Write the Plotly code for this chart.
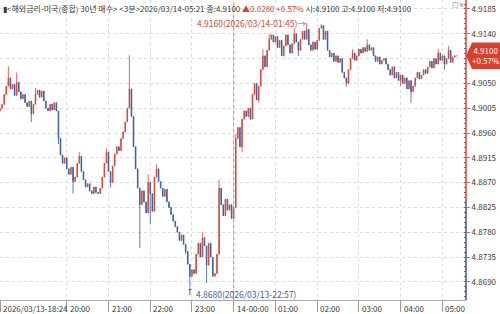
import plotly.graph_objects as go
from datetime import datetime, timedelta

# ---------------- data ----------------
start_time = "2026-03-13 18:24"
bar_minutes = 3
first_open = 4.9000
closes = [
    4.9005, 4.9012, 4.9030, 4.9045, 4.9060, 4.9040, 4.9048, 4.9028, 4.9052, 4.9035,
    4.9022, 4.9030, 4.9015, 4.9008, 4.9018, 4.8995, 4.9012, 4.9030, 4.9038, 4.9025,
    4.9036, 4.9018, 4.9005, 4.9000, 4.9012, 4.9002, 4.9015, 4.9000, 4.8950, 4.8920,
    4.8905, 4.8915, 4.8895, 4.8885, 4.8898, 4.8872, 4.8880, 4.8905, 4.8918, 4.8890,
    4.8875, 4.8862, 4.8868, 4.8855, 4.8850, 4.8862, 4.8852, 4.8850, 4.8860, 4.8880,
    4.8905, 4.8925, 4.8890, 4.8870, 4.8900, 4.8922, 4.8935, 4.8928, 4.8950, 4.8962,
    4.8980, 4.9005, 4.9040, 4.8990, 4.8935, 4.8895, 4.8860, 4.8830, 4.8855, 4.8835,
    4.8815, 4.8870, 4.8850, 4.8818, 4.8880, 4.8895, 4.8872, 4.8860, 4.8845, 4.8858,
    4.8835, 4.8825, 4.8812, 4.8800, 4.8790, 4.8780, 4.8765, 4.8775, 4.8758, 4.8745,
    4.8722, 4.8700, 4.8712, 4.8705, 4.8740, 4.8760, 4.8735, 4.8770, 4.8755, 4.8720,
    4.8760, 4.8735, 4.8700, 4.8705, 4.8740, 4.8860, 4.8830, 4.8810, 4.8840, 4.8820,
    4.8830, 4.8805, 4.8825, 4.8950, 4.8970, 4.8935, 4.8985, 4.9000, 4.8990, 4.9005,
    4.8985, 4.9030, 4.9050, 4.9020, 4.9045, 4.9075, 4.9100, 4.9080, 4.9110, 4.9130,
    4.9138, 4.9125, 4.9135, 4.9115, 4.9128, 4.9100, 4.9118, 4.9138, 4.9120, 4.9105,
    4.9122, 4.9140, 4.9125, 4.9110, 4.9130, 4.9145, 4.9130, 4.9148, 4.9120, 4.9110,
    4.9125, 4.9112, 4.9128, 4.9150, 4.9155, 4.9130, 4.9145, 4.9110, 4.9098, 4.9105,
    4.9090, 4.9100, 4.9088, 4.9095, 4.9070, 4.9060, 4.9050, 4.9075, 4.9095, 4.9105,
    4.9092, 4.9100, 4.9112, 4.9105, 4.9115, 4.9108, 4.9120, 4.9110, 4.9115, 4.9100,
    4.9090, 4.9098, 4.9085, 4.9092, 4.9095, 4.9085, 4.9075, 4.9065, 4.9080, 4.9060,
    4.9070, 4.9055, 4.9065, 4.9050, 4.9060, 4.9040, 4.9055, 4.9035, 4.9045, 4.9060,
    4.9070, 4.9058, 4.9065, 4.9075, 4.9068, 4.9080, 4.9090, 4.9078, 4.9095, 4.9085,
    4.9105, 4.9092, 4.9100, 4.9085, 4.9095, 4.9110, 4.9088, 4.9098, 4.9100, 4.9100,
]
# notable wicks (bar index -> price)
wick_highs = {4: 4.9081, 8: 4.9070, 17: 4.9042, 38: 4.8925, 51: 4.8932, 62: 4.9101,
              71: 4.8885, 75: 4.8903, 97: 4.8780, 105: 4.8875, 113: 4.8958, 126: 4.9112,
              129: 4.9140, 141: 4.9150, 147: 4.9160, 154: 4.9158, 169: 4.9112, 176: 4.9130,
              210: 4.9112, 215: 4.9118}
wick_lows = {15: 4.8980, 28: 4.8940, 35: 4.8850, 53: 4.8861, 67: 4.8751, 72: 4.8795,
             89: 4.8740, 91: 4.8680, 99: 4.8688, 116: 4.8925, 124: 4.9015, 143: 4.9100,
             166: 4.9044, 192: 4.9045, 197: 4.9015, 213: 4.9075}

hour_ticks = ["2026-03-13 18:24", "2026-03-13 20:00", "2026-03-13 21:00", "2026-03-13 22:00",
              "2026-03-13 23:00", "2026-03-14 00:00", "2026-03-14 01:00", "2026-03-14 02:00",
              "2026-03-14 03:00", "2026-03-14 04:00", "2026-03-14 05:00"]
hour_labels = ["2026/03/13-18:24", "20:00", "21:00", "22:00", "23:00", "14-00:00",
               "01:00", "02:00", "03:00", "04:00", "05:00"]
price_ticks = [4.8690, 4.8735, 4.8780, 4.8825, 4.8870, 4.8915, 4.8960, 4.9005,
               4.9050, 4.9095, 4.9140, 4.9185]
last_price = 4.9100
change = 0.0280
change_pct = 0.57
high_point = ("2026-03-14 01:45", 4.9160)
low_point = ("2026-03-13 22:57", 4.8680)
title_text = "<해외금리-미국(종합) 30년 매수> <3분>2026/03/14-05:21"

# ---------------- derived ----------------
t0 = datetime.strptime(start_time, "%Y-%m-%d %H:%M")
times = [t0 + timedelta(minutes=bar_minutes * i) for i in range(len(closes))]
opens = [first_open] + closes[:-1]
highs = [max(o, c) for o, c in zip(opens, closes)]
lows = [min(o, c) for o, c in zip(opens, closes)]
for k, v in wick_highs.items():
    highs[k] = max(highs[k], v)
for k, v in wick_lows.items():
    lows[k] = min(lows[k], v)

RED = "#d8402f"
BLUE = "#2d5aa0"
GRID = "#dcdcdc"
TXT = "#3a3a3a"
FONT = "Liberation Sans Narrow, Noto Sans CJK KR, sans-serif"

fig = go.Figure()
fig.add_trace(go.Candlestick(
    x=times, open=opens, high=highs, low=lows, close=closes,
    increasing=dict(line=dict(color=RED, width=0.8), fillcolor=RED),
    decreasing=dict(line=dict(color=BLUE, width=0.8), fillcolor=BLUE),
    whiskerwidth=0, showlegend=False, hoverinfo="skip",
))

# price box hides the tick label at the current price level
tick_text = ["" if abs(v - last_price) < 0.001 else f"{v:.4f}" for v in price_ticks]

x_end = t0 + timedelta(minutes=670)
fig.update_layout(
    width=500, height=314,
    margin=dict(l=0, r=34, t=0, b=14),
    paper_bgcolor="white", plot_bgcolor="white",
    boxgap=0.55,
    font=dict(family=FONT, size=8, color=TXT),
    xaxis=dict(
        type="date", range=[t0, x_end], rangeslider=dict(visible=False),
        tickvals=hour_ticks, showticklabels=False,
        ticks="outside", ticklen=11, tickcolor="#9a9a9a", tickwidth=1,
        showgrid=True, gridcolor=GRID, griddash="dot", gridwidth=1,
        showline=True, linecolor="#a8a8a8", linewidth=1, mirror=False,
        zeroline=False, fixedrange=True,
    ),
    yaxis=dict(
        side="right", range=[4.86570, 4.92013],
        tickvals=price_ticks, ticktext=tick_text,
        ticks="outside", ticklen=3, tickcolor="#8a8a8a",
        tickfont=dict(family=FONT, size=8, color=TXT),
        showgrid=True, gridcolor=GRID, griddash="dot", gridwidth=1,
        showline=False, zeroline=False,
        minor=dict(tickmode="linear", tick0=4.8690, dtick=0.0009, ticks="inside",
                   ticklen=2, tickcolor=RED, showgrid=False),
    ),
)

# day separator
fig.add_shape(type="line", xref="x", yref="paper", x0="2026-03-14 00:00", x1="2026-03-14 00:00",
              y0=0, y1=1, line=dict(color="#9c9c9c", width=1, dash="dot"))
# right axis line: red above reference, blue below
split_price = 4.8840
fig.add_shape(type="line", xref="paper", yref="y", x0=1, x1=1, y0=split_price, y1=4.92013,
              line=dict(color=RED, width=1.5))
fig.add_shape(type="line", xref="paper", yref="y", x0=1, x1=1, y0=4.86570, y1=split_price,
              line=dict(color=BLUE, width=1.5))

# x tick labels (left aligned)
for tv, tl in zip(hour_ticks, hour_labels):
    fig.add_annotation(x=tv, y=0, xref="x", yref="paper", text=tl, showarrow=False,
                       xanchor="left", yanchor="top", xshift=1, yshift=-1,
                       font=dict(family=FONT, size=8, color=TXT))

# header
header = (f"▮{title_text.replace('<', '&lt;').replace('>', '&gt;')} 종:{last_price:.4f} "
          f"<span style='color:{RED}'>▲{change:.4f} +{change_pct:.2f}%</span> "
          f"시:{last_price:.4f} 고:{last_price:.4f} 저:{last_price:.4f}")
fig.add_annotation(x=0, y=1, xref="paper", yref="paper", text=header, showarrow=False,
                   xanchor="left", yanchor="top", yshift=-1, xshift=1,
                   font=dict(family=FONT, size=8, color=TXT))
fig.add_annotation(x=1.0, y=1, xref="paper", yref="paper", text="□×", showarrow=False,
                   xanchor="right", yanchor="top", xshift=0, yshift=1,
                   font=dict(family="DejaVu Sans", size=7, color="#777"))

# current price box
half = 0.0024
fig.add_shape(type="path", xref="paper", yref="y", fillcolor=RED, line=dict(width=0),
              path=f"M 1.0,{last_price} L 1.013,{last_price + half} L 1.075,{last_price + half} "
                   f"L 1.075,{last_price - half} L 1.013,{last_price - half} Z")
fig.add_annotation(x=1.043, y=last_price, xref="paper", yref="y",
                   text=f"{last_price:.4f}<br>+{change_pct:.2f}%", showarrow=False,
                   xanchor="center", yanchor="middle", align="center",
                   font=dict(family=FONT, size=8, color="white"))

# high / low markers
fig.add_annotation(x=high_point[0], y=high_point[1], xref="x", yref="y",
                   text=f"{high_point[1]:.4f}(2026/03/14-01:45)→", showarrow=False,
                   xanchor="right", yanchor="middle", xshift=1, yshift=0,
                   font=dict(family=FONT, size=8.5, color="#c8503e"))
fig.add_annotation(x=low_point[0], y=low_point[1], xref="x", yref="y",
                   text=f"{low_point[1]:.4f}(2026/03/13-22:57)", showarrow=False,
                   xanchor="left", yanchor="middle", xshift=4, yshift=-7,
                   font=dict(family=FONT, size=8.5, color="#3a62a0"))
fig.add_annotation(x=low_point[0], y=low_point[1], xref="x", yref="y", text="",
                   showarrow=True, ax=0, ay=9, arrowhead=1, arrowsize=0.6, arrowwidth=1,
                   arrowcolor="#3a62a0", standoff=1)

fig.write_html("out.html")
